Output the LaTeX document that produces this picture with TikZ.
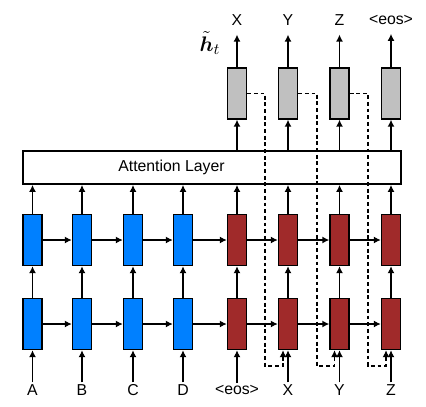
\documentclass[tikz,border=0pt]{standalone}
\usepackage{amsmath,amssymb}
\usepackage{fontspec}
\setmainfont{Liberation Sans}
\usetikzlibrary{arrows.meta}

\definecolor{encblue}{RGB}{0,128,255}
\definecolor{decred}{RGB}{160,42,42}
\definecolor{outgray}{RGB}{192,192,192}

\begin{document}
\begin{tikzpicture}
        [
        x=0.02cm, y=-0.02cm,
        font=\fontsize{9}{10}\selectfont,
        cell/.style={rectangle, draw=black, line width=0.75pt, inner sep=0pt,
                minimum width=0.38cm, minimum height=1.02cm},
        enc/.style={cell, fill=encblue},
        dec/.style={cell, fill=decred},
        outcell/.style={cell, fill=outgray},
        word/.style={inner sep=1pt},
        link/.style={line width=0.8pt, -{Latex[length=4pt,width=4pt]}},
        feed/.style={link, dash pattern=on 2.2pt off 1.6pt},
        ]
                \useasboundingbox (0,0) rectangle (426,406);

                % attention layer
                \node[rectangle, draw=black, line width=1pt, fill=white, minimum width=7.56cm,
                        minimum height=0.66cm] (att) at (212,167.5) {};
                \node (attlbl) at (171.5,167.5) {Attention Layer};

                % lower row
                \node[enc] (lo1) at ( 32.5,324) {};
                \node[enc] (lo2) at ( 82.0,324) {};
                \node[enc] (lo3) at (133.0,324) {};
                \node[enc] (lo4) at (183.0,324) {};
                \node[dec] (lo5) at (237.0,324) {};
                \node[dec] (lo6) at (288.0,324) {};
                \node[dec] (lo7) at (339.5,324) {};
                \node[dec] (lo8) at (391.0,324) {};

                % upper row
                \node[enc] (hi1) at ( 32.5,240) {};
                \node[enc] (hi2) at ( 82.0,240) {};
                \node[enc] (hi3) at (133.0,240) {};
                \node[enc] (hi4) at (183.0,240) {};
                \node[dec] (hi5) at (237.0,240) {};
                \node[dec] (hi6) at (288.0,240) {};
                \node[dec] (hi7) at (339.5,240) {};
                \node[dec] (hi8) at (391.0,240) {};

                % outputs
                \node[outcell] (out1) at (237.0,93.5) {};
                \node[outcell] (out2) at (288.0,93.5) {};
                \node[outcell] (out3) at (339.5,93.5) {};
                \node[outcell] (out4) at (391.0,93.5) {};
                \node[inner sep=0pt] (ht) at (210,43) {\fontsize{13}{15}\selectfont$\tilde{\boldsymbol{h}}_t$};

                % words
                \node[word] (in1) at ( 32.5,390) {A};
                \node[word] (in2) at ( 82.0,390) {B};
                \node[word] (in3) at (133.0,390) {C};
                \node[word] (in4) at (183.0,390) {D};
                \node[word] (in5) at (237.0,390) {<eos>};
                \node[word] (in6) at (288.0,390) {X};
                \node[word] (in7) at (339.5,390) {Y};
                \node[word] (in8) at (391.0,390) {Z};
                \node[word] (y1) at (237.0,20) {X};
                \node[word] (y2) at (288.0,20) {Y};
                \node[word] (y3) at (339.5,20) {Z};
                \node[word] (y4) at (391.0,20) {<eos>};

                % drawing code
                \foreach \i in {1,...,8} {
                        \draw[link] (in\i) -- (lo\i);
                        \draw[link] (lo\i) -- (hi\i);
                        \draw[link] (hi\i.north) -- (hi\i |- att.south);
                }
                \foreach \from/\to in {lo1/lo2,lo2/lo3,lo3/lo4,lo4/lo5,lo5/lo6,lo6/lo7,lo7/lo8,
                        hi1/hi2,hi2/hi3,hi3/hi4,hi4/hi5,hi5/hi6,hi6/hi7,hi7/hi8}
                        \draw[link] (\from) -- (\to);
                \foreach \from/\to in {out1/y1,out2/y2,out3/y3,out4/y4} {
                        \draw[link] (\from |- att.north) -- (\from.south);
                        \draw[link, shorten >=4pt] (\from) -- (\to);
                }
                \foreach \from/\to/\x in {out1/lo6/265,out2/lo7/317,out3/lo8/368}
                        \draw[feed] (\from.east) -| (\x,366) -| ([xshift=-0.1cm]\to.south);
        \end{tikzpicture}
\end{document}
